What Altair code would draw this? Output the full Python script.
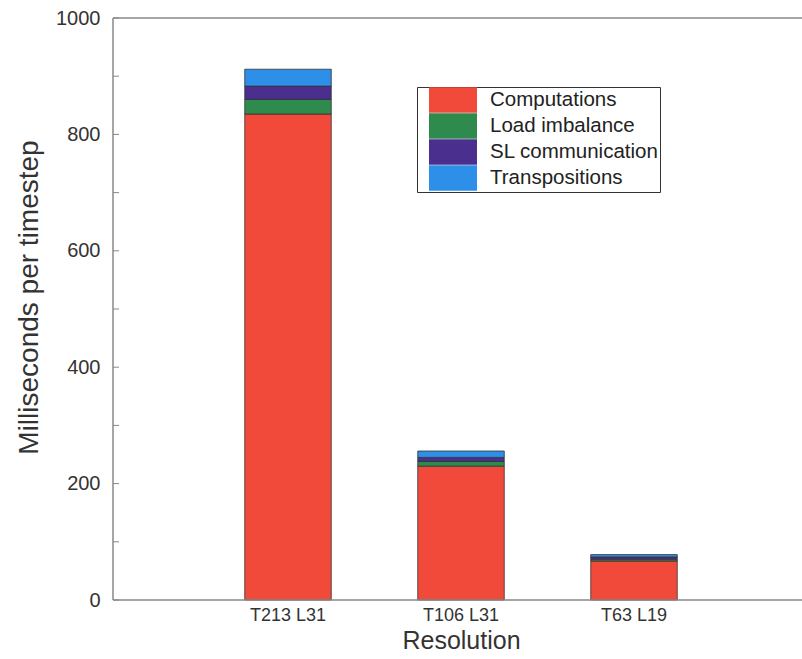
import altair as alt
import pandas as pd

# Stacked timing breakdown per model resolution
resolutions = ["T213 L31", "T106 L31", "T63 L19"]
components = ["Computations", "Load imbalance", "SL communication", "Transpositions"]
computations = [835, 230, 67]
load_imbalance = [25, 8, 3]
sl_communication = [23, 7, 4]
transpositions = [29, 11, 4]
component_colors = ["#f24a3a", "#2f8a4e", "#4a2f8e", "#2d8fe8"]

y_ticks = list(range(0, 1001, 100))

series = [computations, load_imbalance, sl_communication, transpositions]
rows = []
for ci, (name, vals) in enumerate(zip(components, series)):
    for res, v in zip(resolutions, vals):
        rows.append({"Resolution": res, "Component": name, "ms": v, "order": ci})
df = pd.DataFrame(rows)

font = "Liberation Sans"
frame_color = "#888888"
W, H = 689, 582

bars = alt.Chart(df).mark_bar(stroke="#333333", strokeWidth=0.8).encode(
    x=alt.X(
        "Resolution:N",
        sort=resolutions,
        scale=alt.Scale(paddingInner=0.5, paddingOuter=0.75, range=[2, 694]),
        axis=alt.Axis(
            title="Resolution",
            labelAngle=0,
            ticks=False,
            labelFontSize=18,
            labelPadding=6,
            titleFontSize=25,
            titlePadding=4,
            titleFontWeight="normal",
        ),
    ),
    y=alt.Y(
        "ms:Q",
        stack="zero",
        scale=alt.Scale(domain=[0, 1000], nice=False),
        axis=alt.Axis(
            title="Milliseconds per timestep",
            values=[0, 200, 400, 600, 800, 1000],
            format="d",
            ticks=False,
            grid=False,
            labelFontSize=20,
            labelPadding=13,
            titleFontSize=28,
            titlePadding=12,
            titleY=279,
            titleFontWeight="normal",
        ),
    ),
    color=alt.Color(
        "Component:N",
        sort=components,
        scale=alt.Scale(domain=components, range=component_colors),
        legend=alt.Legend(
            title=None,
            orient="none",
            legendX=304,
            legendY=69,
            strokeColor="#333333",
            padding=1,
            symbolType="M-2,-1.06H2V1.06H-2Z",
            symbolSize=576,
            symbolStrokeWidth=0,
            symbolOffset=23,
            labelFontSize=20.5,
            labelOffset=25,
            labelColor="#222222",
            labelLimit=400,
            rowPadding=0,
        ),
    ),
    order=alt.Order("order:Q", sort="ascending"),
)

# Inward-pointing tick marks along the left axis
ticks = alt.Chart(pd.DataFrame({"v": y_ticks})).mark_rule(
    color=frame_color, strokeWidth=1
).encode(
    y="v:Q",
    x=alt.value(0),
    x2=alt.value(6),
)

# Plot frame: left, top and bottom edges (the right edge runs off the page)
frame_left = alt.Chart().mark_rule(color=frame_color, strokeWidth=1.5).encode(
    x=alt.value(0), y=alt.value(0), y2=alt.value(H)
)
frame_top = alt.Chart().mark_rule(color=frame_color, strokeWidth=1.5).encode(
    x=alt.value(0), x2=alt.value(W), y=alt.value(0)
)
frame_bottom = alt.Chart().mark_rule(color=frame_color, strokeWidth=1.5).encode(
    x=alt.value(0), x2=alt.value(W), y=alt.value(H)
)

chart = (
    alt.layer(bars, ticks, frame_left, frame_top, frame_bottom)
    .properties(
        width=W,
        height=H,
        autosize=alt.AutoSizeParams(type="none"),
        padding={"left": 113, "top": 18, "right": 0, "bottom": 59},
        background="white",
    )
    .configure_view(strokeWidth=0, stroke="transparent")
    .configure_axis(
        domain=False,
        labelFont=font,
        titleFont=font,
        labelColor="#333333",
        titleColor="#333333",
    )
    .configure_legend(labelFont=font)
)

chart.save("out.html", embed_options={"renderer": "svg", "actions": False})
